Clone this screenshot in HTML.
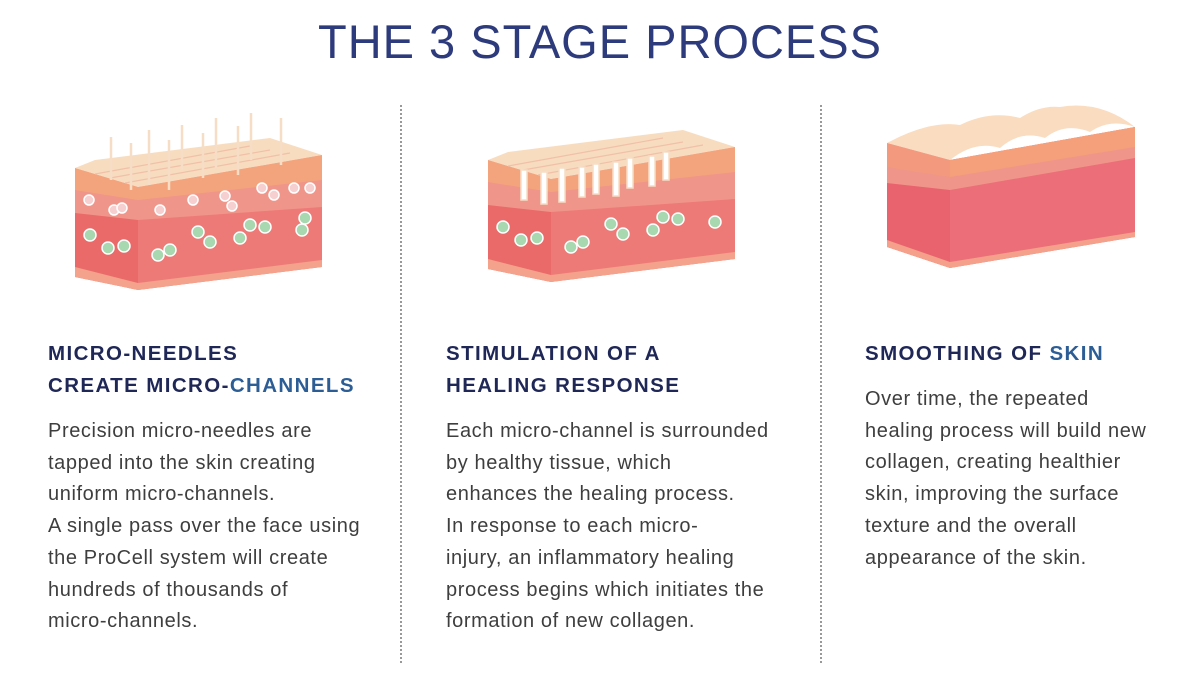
<!DOCTYPE html>
<html><head><meta charset="utf-8"><style>
body{margin:0;width:1200px;height:700px;background:#fff;position:relative;overflow:hidden;font-family:"Liberation Sans",sans-serif}
.t{position:absolute;top:14px;left:0;width:1200px;text-align:center;font-size:47px;color:#2d3b7c;letter-spacing:1px}
.h{position:absolute;font-weight:bold;font-size:20.5px;color:#1f2757;line-height:32px;letter-spacing:1.4px;white-space:nowrap}
.h span{color:#2d5d95}
.p{position:absolute;font-size:20px;color:#3e3e3e;line-height:31.7px;letter-spacing:0.6px;white-space:nowrap}
.d{position:absolute;top:105px;height:558px;border-left:2px dotted #999}
svg{position:absolute;left:0;top:0}
</style></head><body>
<div class="t">THE 3 STAGE PROCESS</div>
<div class="d" style="left:400px"></div>
<div class="d" style="left:820px"></div>
<svg width="1200" height="320">
<defs>
<g id="blk">
 <polygon points="75,168 138,187 138,290 75,277" fill="#ea6a6a"/>
 <polygon points="138,187 322,155 322,267 138,290" fill="#ee7a78"/>
 <polygon points="75,168 138,187 138,220 75,213" fill="#f0958a"/>
 <polygon points="138,187 322,155 322,207 138,220" fill="#f0958a"/>
 <polygon points="75,168 138,187 138,200 75,190" fill="#f4a47c"/>
 <polygon points="138,187 322,155 322,180 138,200" fill="#f4a47c"/>
 <polygon points="75,267 138,283 322,260 322,267 138,290 75,277" fill="#f5a28c"/>
 <polygon points="75,168 95,160 270,138 322,155 138,187" fill="#f8dcc0"/>
 <g stroke="#f0c0a8" stroke-width="1.2">
 <line x1="95" y1="174" x2="250" y2="146"/><line x1="110" y1="178" x2="270" y2="150"/><line x1="125" y1="183" x2="290" y2="153"/>
 </g>
</g>
</defs>
<use href="#blk"/>
<g stroke="#f6ddc6" stroke-width="2.5">
<line x1="111" y1="137" x2="111" y2="180"/><line x1="131" y1="143" x2="131" y2="190"/><line x1="149" y1="130" x2="149" y2="185"/><line x1="169" y1="140" x2="169" y2="190"/><line x1="182" y1="125" x2="182" y2="170"/><line x1="203" y1="133" x2="203" y2="178"/><line x1="216" y1="118" x2="216" y2="168"/><line x1="238" y1="126" x2="238" y2="175"/><line x1="251" y1="113" x2="251" y2="160"/><line x1="281" y1="118" x2="281" y2="165"/>
</g>
<g fill="#a8d8b0" stroke="#fff" stroke-width="1.5">
<circle cx="90" cy="235" r="6"/><circle cx="108" cy="248" r="6"/><circle cx="124" cy="246" r="6"/><circle cx="158" cy="255" r="6"/><circle cx="170" cy="250" r="6"/><circle cx="198" cy="232" r="6"/><circle cx="210" cy="242" r="6"/><circle cx="240" cy="238" r="6"/><circle cx="250" cy="225" r="6"/><circle cx="265" cy="227" r="6"/><circle cx="302" cy="230" r="6"/><circle cx="305" cy="218" r="6"/>
</g>
<g fill="#f6d0d0" stroke="#fff" stroke-width="1.5">
<circle cx="89" cy="200" r="5"/><circle cx="114" cy="210" r="5"/><circle cx="122" cy="208" r="5"/><circle cx="160" cy="210" r="5"/><circle cx="193" cy="200" r="5"/><circle cx="225" cy="196" r="5"/><circle cx="232" cy="206" r="5"/><circle cx="262" cy="188" r="5"/><circle cx="274" cy="195" r="5"/><circle cx="294" cy="188" r="5"/><circle cx="310" cy="188" r="5"/>
</g>
<g transform="translate(413,-8)">
<use href="#blk"/>
<g fill="#fff" stroke="#f6ddc6" stroke-width="1.5">
<rect x="108" y="178" width="6" height="30"/><rect x="128" y="180" width="6" height="32"/><rect x="146" y="176" width="6" height="34"/><rect x="166" y="175" width="6" height="30"/><rect x="180" y="172" width="6" height="30"/><rect x="200" y="170" width="6" height="34"/><rect x="214" y="166" width="6" height="30"/><rect x="236" y="164" width="6" height="30"/><rect x="250" y="160" width="6" height="28"/>
</g>
<g fill="#a8d8b0" stroke="#fff" stroke-width="1.5">
<circle cx="90" cy="235" r="6"/><circle cx="108" cy="248" r="6"/><circle cx="124" cy="246" r="6"/><circle cx="158" cy="255" r="6"/><circle cx="170" cy="250" r="6"/><circle cx="198" cy="232" r="6"/><circle cx="210" cy="242" r="6"/><circle cx="240" cy="238" r="6"/><circle cx="250" cy="225" r="6"/><circle cx="265" cy="227" r="6"/><circle cx="302" cy="230" r="6"/>
</g>
</g>
<polygon points="887,143 950,160 950,268 887,247" fill="#e9636e"/>
<polygon points="950,160 1135,127 1135,237 950,268" fill="#ec6e78"/>
<polygon points="887,143 950,160 950,190 887,183" fill="#f0958a"/>
<polygon points="950,160 1135,127 1135,158 950,190" fill="#f0958a"/>
<polygon points="887,143 950,160 950,177 887,167" fill="#f39a7e"/>
<polygon points="950,160 1135,127 1135,147 950,177" fill="#f5a07a"/>
<polygon points="887,240 950,262 1135,232 1135,237 950,268 887,247" fill="#f5a08a"/>
<path d="M887,143 Q930,120 960,125 Q990,110 1020,118 Q1040,105 1060,107 Q1100,100 1135,127 Q1110,118 1090,132 Q1065,122 1045,138 Q1020,130 1000,148 Q975,140 950,160 Z" fill="#fadcc0"/>
</svg>
<div class="h" style="left:48px;top:338px">MICRO-NEEDLES<br>CREATE MICRO-<span>CHANNELS</span></div>
<div class="p" style="left:48px;top:416px">Precision micro-needles are<br>tapped into the skin creating<br>uniform micro-channels.<br>A single pass over the face using<br>the ProCell system will create<br>hundreds of thousands of<br>micro-channels.</div>
<div class="h" style="left:446px;top:338px">STIMULATION OF A<br>HEALING RESPONSE</div>
<div class="p" style="left:446px;top:416px">Each micro-channel is surrounded<br>by healthy tissue, which<br>enhances the healing process.<br>In response to each micro-<br>injury, an inflammatory healing<br>process begins which initiates the<br>formation of new collagen.</div>
<div class="h" style="left:865px;top:338px">SMOOTHING OF <span>SKIN</span></div>
<div class="p" style="left:865px;top:384px">Over time, the repeated<br>healing process will build new<br>collagen, creating healthier<br>skin, improving the surface<br>texture and the overall<br>appearance of the skin.</div>
</body></html>
